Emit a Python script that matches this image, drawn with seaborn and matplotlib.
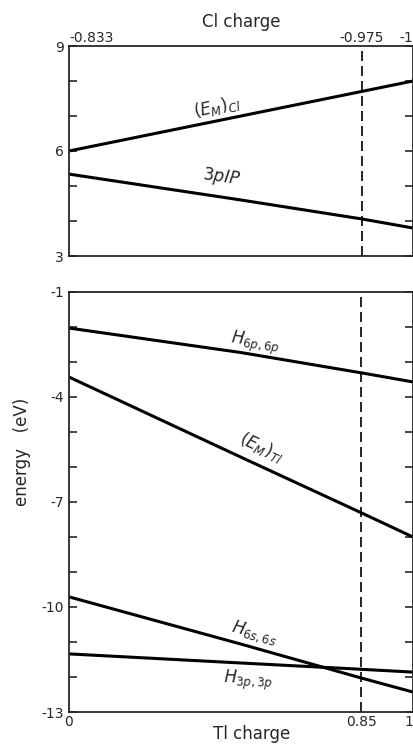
import matplotlib
matplotlib.use("Agg")
import matplotlib.pyplot as plt
import seaborn as sns
import pandas as pd
import numpy as np

# ---- data ----
tl_charge = [0.0, 0.5, 0.85, 1.0]
cl_charge = [-0.833, -0.9165, -0.975, -1.0]

em_cl = [6.0, 7.0, 7.7, 8.0]
ip_3p = [5.34, 4.6, 4.06, 3.8]

h6p = [-2.03, -2.73, -3.31, -3.57]
em_tl = [-3.43, -5.72, -7.31, -8.0]
h6s = [-9.71, -11.06, -12.03, -12.43]
h3p = [-11.34, -11.6, -11.78, -11.86]

upper_yticks = [3, 6, 9]
lower_yticks = [-1, -4, -7, -10, -13]
cl_ticks = [-0.833, -0.975, -1.0]
cl_ticklabels = ["-0.833", "-0.975", "-1"]
tl_ticks = [0, 0.85, 1.0]
tl_ticklabels = ["0", "0.85", "1"]
dash_tl = 0.85
dash_cl = -0.975

sns.set_style("ticks")
plt.rcParams['font.family'] = ['DejaVu Sans']

fig = plt.figure(figsize=(4.14, 7.46), dpi=100)
ax1 = fig.add_axes([69/414, 1-256/746, 344/414, 210/746])
ax2 = fig.add_axes([69/414, 1-712/746, 344/414, 420/746])

up = pd.DataFrame({"x": cl_charge * 2, "y": em_cl + ip_3p,
                   "s": ["em"] * 4 + ["ip"] * 4})
lo = pd.DataFrame({"x": tl_charge * 4, "y": h6p + em_tl + h6s + h3p,
                   "s": ["a"] * 4 + ["b"] * 4 + ["c"] * 4 + ["d"] * 4})

sns.lineplot(data=up, x="x", y="y", units="s", estimator=None, color="black",
             lw=2.2, ax=ax1, sort=False)
sns.lineplot(data=lo, x="x", y="y", units="s", estimator=None, color="black",
             lw=2.2, ax=ax2, sort=False)

for ax in (ax1, ax2):
    for sp in ax.spines.values():
        sp.set_linewidth(1.3)
        sp.set_visible(True)
    ax.set_xlabel("")
    ax.set_ylabel("")
    ax.tick_params(axis="y", which="both", direction="in", left=True, right=True,
                   length=6, width=1.2, labelsize=10)
    ax.tick_params(axis="x", length=0, labelsize=10)

# upper
ax1.set_xlim(-0.833, -1.0)
ax1.set_ylim(3, 9)
ax1.set_yticks(range(3, 10))
ax1.set_yticklabels([str(v) if v in upper_yticks else "" for v in range(3, 10)])
ax1.xaxis.tick_top()
ax1.set_xticks(cl_ticks)
ax1.set_xticklabels(cl_ticklabels)
ax1.tick_params(axis="x", pad=1)
for lab in ax1.get_xticklabels():
    if lab.get_text() == "-0.833":
        lab.set_ha("left")
    if lab.get_text() == "-1":
        lab.set_ha("right")
ax1.axvline(dash_cl, color="black", ls=(0, (6, 3)), lw=1.2)
ax1.text(-0.905, 7.25, r"$(E_M)_{Cl}$", rotation=12, fontsize=12, ha="center", va="center")
ax1.text(-0.907, 5.25, r"$3pIP$", rotation=-8, fontsize=12, ha="center", va="center")
ax1.set_title("Cl charge", fontsize=12, pad=14)

# lower
ax2.set_xlim(0, 1.0)
ax2.set_ylim(-13, -1)
ax2.set_yticks(range(-13, 0))
ax2.set_yticklabels([str(v) if v in lower_yticks else "" for v in range(-13, 0)])
ax2.set_xticks(tl_ticks)
ax2.set_xticklabels(tl_ticklabels)
ax2.tick_params(axis="x", pad=2)
for lab in ax2.get_xticklabels():
    if lab.get_text() == "1":
        lab.set_ha("right")
ax2.axvline(dash_tl, color="black", ls=(0, (6, 3)), lw=1.2)
ax2.text(0.54, -2.45, r"$H_{6p,6p}$", rotation=-8, fontsize=12, ha="center", va="center")
ax2.text(0.56, -5.45, r"$(E_M)_{Tl}$", rotation=-25, fontsize=12, ha="center", va="center")
ax2.text(0.54, -10.75, r"$H_{6s,6s}$", rotation=-15, fontsize=12, ha="center", va="center")
ax2.text(0.52, -12.1, r"$H_{3p,3p}$", rotation=-2, fontsize=12, ha="center", va="center")
ax2.set_xlabel("Tl charge", fontsize=12, labelpad=-2)
ax2.xaxis.set_label_coords(0.53, -0.03)

fig.text(22/414, 1-452/746, "energy   (eV)", rotation=90, fontsize=12,
         ha="center", va="center")

fig.savefig("out.png", dpi=100)
